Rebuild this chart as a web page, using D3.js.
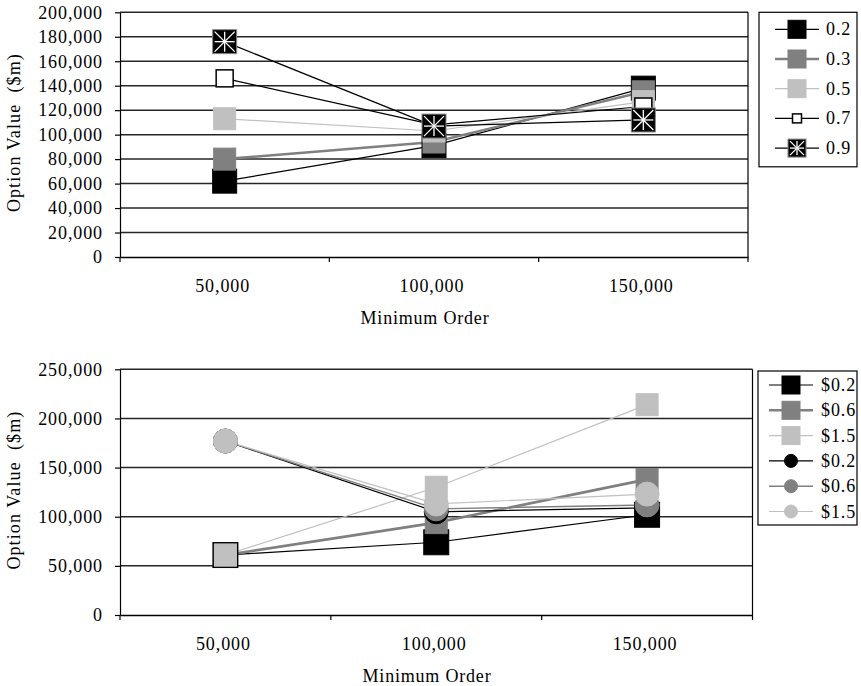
<!DOCTYPE html>
<html><head><meta charset="utf-8">
<script src="https://cdn.jsdelivr.net/npm/d3@7"></script>
<style>body{margin:0;background:#fff}</style>
</head><body>
<svg id="c" width="861" height="686"></svg>
<script>
// ---------- data ----------
const categories = ["50,000", "100,000", "150,000"];
const xTitle = "Minimum Order";
const yTitle = "Option Value  ($m)";

// top panel
const topNames = ["0.2", "0.3", "0.5", "0.7", "0.9"];
const top02 = [62000, 91000, 138000];
const top03 = [80000, 94000, 135000];
const top05 = [113000, 103000, 127000];
const top07 = [146000, 108000, 123000];
const top09 = [176000, 107000, 112000];
const topTicks = [0, 20000, 40000, 60000, 80000, 100000, 120000, 140000, 160000, 180000, 200000];

// bottom panel
const botNames = ["$0.2", "$0.6", "$1.5", "$0.2", "$0.6", "$1.5"];
const botSq02 = [61000, 74000, 102000];
const botSq06 = [61000, 94000, 138000];
const botSq15 = [61000, 130000, 214000];
const botCi02 = [177000, 105000, 109000];
const botCi06 = [177000, 108000, 112000];
const botCi15 = [177000, 113000, 123000];
const botTicks = [0, 50000, 100000, 150000, 200000, 250000];

// ---------- drawing ----------
const FONT = "'Liberation Serif','Times New Roman',serif";
const FS = 18, LS = 0.9;
const svg = d3.select("#c");

function marker(g, type, cx, cy, s, fill, stroke) {
  if (type === "square") {
    g.append("rect").attr("x", cx - s / 2).attr("y", cy - s / 2).attr("width", s).attr("height", s)
      .attr("fill", fill).attr("stroke", stroke || fill).attr("stroke-width", 1);
  } else if (type === "white") {
    g.append("rect").attr("x", cx - s / 2).attr("y", cy - s / 2).attr("width", s).attr("height", s)
      .attr("fill", "#fff").attr("stroke", "#000").attr("stroke-width", 1.5);
  } else if (type === "star") {
    g.append("rect").attr("x", cx - s / 2).attr("y", cy - s / 2).attr("width", s).attr("height", s)
      .attr("fill", "#000").attr("stroke", "#888").attr("stroke-width", 1);
    const h = s / 2 - 2;
    const pts = [[h, 0], [-h, 0], [0, h], [0, -h], [h, h], [-h, -h], [h, -h], [-h, h]];
    pts.forEach(p => g.append("line").attr("x1", cx).attr("y1", cy).attr("x2", cx + p[0]).attr("y2", cy + p[1])
      .attr("stroke", "#fff").attr("stroke-width", 1.3));
  } else if (type === "circle") {
    g.append("circle").attr("cx", cx).attr("cy", cy).attr("r", s / 2)
      .attr("fill", fill).attr("stroke", stroke || fill).attr("stroke-width", 1);
  }
}

function drawPanel(cfg) {
  const g = svg.append("g");
  const x = d3.scaleBand().domain(categories).range([cfg.left, cfg.right]);
  const y = d3.scaleLinear().domain([0, cfg.max]).range([cfg.bottom, cfg.top]);

  // gridlines
  g.selectAll("line.grid").data(cfg.ticks.filter(t => t > 0)).join("line")
    .attr("x1", cfg.left).attr("x2", cfg.right)
    .attr("y1", d => y(d)).attr("y2", d => y(d))
    .attr("stroke", "#262626").attr("stroke-width", 1.5);
  // right border
  g.append("line").attr("x1", cfg.right).attr("x2", cfg.right)
    .attr("y1", y(cfg.max)).attr("y2", cfg.bottom).attr("stroke", "#000").attr("stroke-width", 1.2);

  // y axis
  const ya = g.append("g").attr("transform", `translate(${cfg.left},0)`)
    .call(d3.axisLeft(y).tickValues(cfg.ticks).tickFormat(d3.format(",")).tickSize(5).tickSizeOuter(0).tickPadding(12));
  ya.select(".domain").attr("stroke", "#000").attr("stroke-width", 1.2);
  ya.selectAll(".tick line").attr("stroke", "#000").attr("stroke-width", 1.2);
  ya.selectAll("text").attr("font-family", FONT).attr("font-size", FS).attr("letter-spacing", LS).attr("fill", "#000");

  // x axis
  const xa = g.append("g").attr("transform", `translate(0,${cfg.bottom})`)
    .call(d3.axisBottom(x).tickSize(0).tickSizeOuter(0));
  xa.select(".domain").attr("stroke", "#000").attr("stroke-width", 1.4);
  xa.selectAll(".tick text").attr("y", 35).attr("dy", null).attr("dx", -2)
    .attr("font-family", FONT).attr("font-size", FS).attr("letter-spacing", LS).attr("fill", "#000");
  // boundary tick marks
  const bounds = categories.map(c => x(c)).concat([x(categories[categories.length - 1]) + x.bandwidth()]);
  g.selectAll("line.xt").data(bounds).join("line")
    .attr("x1", d => d).attr("x2", d => d).attr("y1", cfg.bottom).attr("y2", cfg.bottom + 5)
    .attr("stroke", "#000").attr("stroke-width", 1.2);

  // titles
  g.append("text").attr("x", cfg.xTitleX).attr("y", cfg.bottom + 67).attr("text-anchor", "middle")
    .attr("font-family", FONT).attr("font-size", FS).attr("letter-spacing", 0.8).text(xTitle);
  g.append("text").attr("transform", `translate(20,${(cfg.top + cfg.bottom) / 2 - 2}) rotate(-90)`)
    .attr("text-anchor", "middle").style("white-space", "pre")
    .attr("font-family", FONT).attr("font-size", FS).attr("letter-spacing", 1.1).text(yTitle);

  // lines
  const cx = c => x(c) + x.bandwidth() / 2;
  const line = d3.line().x((d, i) => cx(categories[i])).y(d => y(d));
  cfg.series.forEach(s => {
    g.append("path").attr("d", line(s.values)).attr("fill", "none")
      .attr("stroke", s.color).attr("stroke-width", s.lw);
  });
  // markers
  cfg.series.forEach(s => {
    s.values.forEach((v, i) => marker(g, s.type, cx(categories[i]), y(v), s.size, s.color, s.mstroke));
  });

  // legend
  const L = cfg.legend;
  g.append("rect").attr("x", L.x).attr("y", L.y).attr("width", L.w).attr("height", L.h)
    .attr("fill", "#fff").attr("stroke", "#000").attr("stroke-width", 1.2);
  cfg.series.forEach((s, i) => {
    const yy = L.first + i * L.step;
    g.append("line").attr("x1", L.lx1).attr("x2", L.lx2).attr("y1", yy).attr("y2", yy)
      .attr("stroke", s.color).attr("stroke-width", s.lw);
    marker(g, s.type, (L.lx1 + L.lx2) / 2, yy, s.lsize, s.color, s.mstroke);
    g.append("text").attr("x", L.tx).attr("y", yy + 6).attr("font-family", FONT).attr("font-size", FS)
      .attr("letter-spacing", LS).style("white-space", "pre").text(s.name);
  });
}

drawPanel({
  left: 120, right: 748, top: 12.3, bottom: 257, max: 200000, ticks: topTicks, xTitleX: 425,
  series: [
    { name: topNames[0], values: top02, color: "#000", lw: 1.2, type: "square", size: 24, lsize: 18 },
    { name: topNames[1], values: top03, color: "#808080", lw: 2.6, type: "square", size: 22, lsize: 18 },
    { name: topNames[2], values: top05, color: "#c0c0c0", lw: 1.2, type: "square", size: 22, lsize: 18 },
    { name: topNames[3], values: top07, color: "#000", lw: 1.2, type: "white", size: 17, lsize: 9 },
    { name: topNames[4], values: top09, color: "#000", lw: 1.2, type: "star", size: 24, lsize: 18 }
  ],
  legend: { x: 759, y: 12.3, w: 98, h: 154.5, first: 29.3, step: 29.7, lx1: 775, lx2: 819, tx: 826 }
});

drawPanel({
  left: 120, right: 752.5, top: 369.3, bottom: 615, max: 250000, ticks: botTicks, xTitleX: 427,
  series: [
    { name: botNames[0], values: botSq02, color: "#000", lw: 1.2, type: "square", size: 25, lsize: 18 },
    { name: botNames[1], values: botSq06, color: "#808080", lw: 2.6, type: "square", size: 22, lsize: 18 },
    { name: botNames[2], values: botSq15, color: "#c0c0c0", lw: 1.2, type: "square", size: 22, lsize: 18 },
    { name: botNames[3], values: botCi02, color: "#000", lw: 1.2, type: "circle", size: 24, lsize: 13 },
    { name: botNames[4], values: botCi06, color: "#808080", lw: 1.4, type: "circle", size: 24, lsize: 13 },
    { name: botNames[5], values: botCi15, color: "#c0c0c0", lw: 1.2, type: "circle", size: 24, lsize: 13 }
  ],
  legend: { x: 758, y: 371, w: 99, h: 154, first: 385, step: 25.3, lx1: 769, lx2: 813, tx: 821 }
});
</script>
</body></html>
